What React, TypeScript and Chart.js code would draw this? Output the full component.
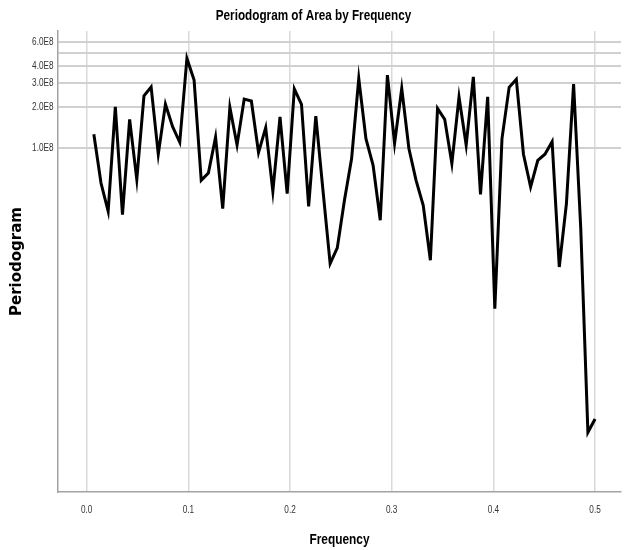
import { useEffect, useRef } from "react";
import { Chart, registerables } from "chart.js";

Chart.register(...registerables);

// Fourier frequencies k/n for a series of 142 observations (k = 1..71)
const N_OBS = 142;

// Periodogram ordinates of Area, one per Fourier frequency
const PERIODOGRAM = [
  1.26e8, 5.53e7, 3.43e7, 2.0e8, 3.24e7, 1.62e8, 5.86e7, 2.41e8, 2.8e8, 8.99e7,
  2.09e8, 1.43e8, 1.1e8, 4.53e8, 3.14e8, 5.79e7, 6.55e7, 1.2e8, 3.59e7, 1.98e8,
  1.05e8, 2.28e8, 2.21e8, 9.25e7, 1.41e8, 4.81e7, 1.69e8, 4.63e7, 2.71e8, 2.09e8,
  3.73e7, 1.71e8, 4.89e7, 1.42e7, 1.85e7, 4.13e7, 8.36e7, 3.23e8, 1.17e8, 7.46e7,
  2.95e7, 3.42e8, 1.08e8, 2.73e8, 9.9e7, 5.79e7, 3.8e7, 1.5e7, 1.95e8, 1.62e8,
  7.68e7, 2.36e8, 1.05e8, 3.32e8, 4.57e7, 2.37e8, 6.62e6, 1.17e8, 2.78e8, 3.18e8,
  8.99e7, 5.17e7, 8.12e7, 8.99e7, 1.11e8, 1.34e7, 3.91e7, 2.94e8, 2.57e7, 8.22e5,
  1.03e6,
];

const FREQUENCY = PERIODOGRAM.map((_, i) => (i + 1) / N_OBS);

const X_TICKS = [0, 0.1, 0.2, 0.3, 0.4, 0.5];
const X_TICK_LABELS = ["0.0", "0.1", "0.2", "0.3", "0.4", "0.5"];
const Y_TICKS = [1e8, 2e8, 3e8, 4e8, 5e8, 6e8];
const Y_TICK_LABELS = ["1.0E8", "2.0E8", "3.0E8", "4.0E8", "", "6.0E8"];

const TITLE = "Periodogram of Area by Frequency";
const X_TITLE = "Frequency";
const Y_TITLE = "Periodogram";

const X_MIN = -0.0282;
const X_MAX = 0.5255;
const Y_MIN = 3.0e5;
const Y_MAX = 7.2e8;

const SANS = '"Liberation Sans", Arial, sans-serif';
const WIDE = '"DejaVu Sans", "Liberation Sans", sans-serif';
// horizontal squeeze that turns Liberation Sans into a narrow face
const NARROW_SCALE = 0.82;

// Draws the chart title, the frequency-axis title and the tick labels in a narrow face
const narrowText = {
  id: "narrowText",
  afterDraw(chart: any) {
    const { ctx, chartArea, scales } = chart;
    const put = (text: string, x: number, y: number, font: string, color: string, align: CanvasTextAlign) => {
      ctx.save();
      ctx.translate(x, y);
      ctx.scale(NARROW_SCALE, 1);
      ctx.font = font;
      ctx.fillStyle = color;
      ctx.textAlign = align;
      ctx.textBaseline = "middle";
      ctx.fillText(text, 0, 0);
      ctx.restore();
    };

    put(TITLE, chart.width / 2, 16.5, `bold 14.3px ${SANS}`, "#000000", "center");

    const xs = scales.x;
    X_TICKS.forEach((v, i) => {
      put(X_TICK_LABELS[i], xs.getPixelForValue(v), 510, `10px ${SANS}`, "#333333", "center");
    });
    put(X_TITLE, (chartArea.left + chartArea.right) / 2, 540, `bold 14.5px ${SANS}`, "#000000", "center");

    const ys = scales.y;
    Y_TICKS.forEach((v, i) => {
      if (!Y_TICK_LABELS[i]) return;
      put(Y_TICK_LABELS[i], chartArea.left - 4.5, ys.getPixelForValue(v), `10px ${SANS}`, "#333333", "right");
    });
  },
};

export default function App() {
  const canvasRef = useRef<HTMLCanvasElement | null>(null);

  useEffect(() => {
    const canvas = canvasRef.current;
    if (!canvas) return;

    const chart = new Chart(canvas, {
      type: "line",
      data: {
        datasets: [
          {
            label: Y_TITLE,
            data: FREQUENCY.map((f, i) => ({ x: f, y: PERIODOGRAM[i] })),
            borderColor: "#000000",
            borderWidth: 3,
            pointRadius: 0,
            tension: 0,
            fill: false,
          },
        ],
      },
      options: {
        responsive: false,
        animation: false,
        layout: { padding: { left: 0, right: 6, top: 31, bottom: 0 } },
        plugins: {
          legend: { display: false },
          tooltip: { enabled: false },
          title: { display: false },
        },
        scales: {
          x: {
            type: "linear",
            min: X_MIN,
            max: X_MAX,
            afterBuildTicks: (scale: any) => {
              scale.ticks = X_TICKS.map((v) => ({ value: v }));
            },
            afterFit: (scale: any) => {
              scale.height = 58;
            },
            ticks: { display: false },
            grid: { color: "#d9d9d9", lineWidth: 1.5, drawTicks: false },
            border: { display: true, color: "#a3a3a3", width: 1.5 },
          },
          y: {
            type: "logarithmic",
            min: Y_MIN,
            max: Y_MAX,
            afterBuildTicks: (scale: any) => {
              scale.ticks = Y_TICKS.map((v) => ({ value: v }));
            },
            afterFit: (scale: any) => {
              scale.width = 58;
            },
            ticks: { display: false },
            grid: { color: "#d0d0d0", lineWidth: 2, drawTicks: false },
            border: { display: true, color: "#a3a3a3", width: 1.5 },
            title: {
              display: true,
              text: Y_TITLE,
              color: "#000000",
              font: { family: WIDE, size: 15, weight: "bold" },
              padding: { top: 8, bottom: 0 },
            },
          },
        },
      },
      plugins: [narrowText],
    });

    return () => chart.destroy();
  }, []);

  return (
    <div style={{ position: "fixed", left: 0, top: 0, width: 627, height: 550, background: "#ffffff" }}>
      <canvas ref={canvasRef} width={627} height={550} style={{ width: 627, height: 550, display: "block" }} />
    </div>
  );
}
